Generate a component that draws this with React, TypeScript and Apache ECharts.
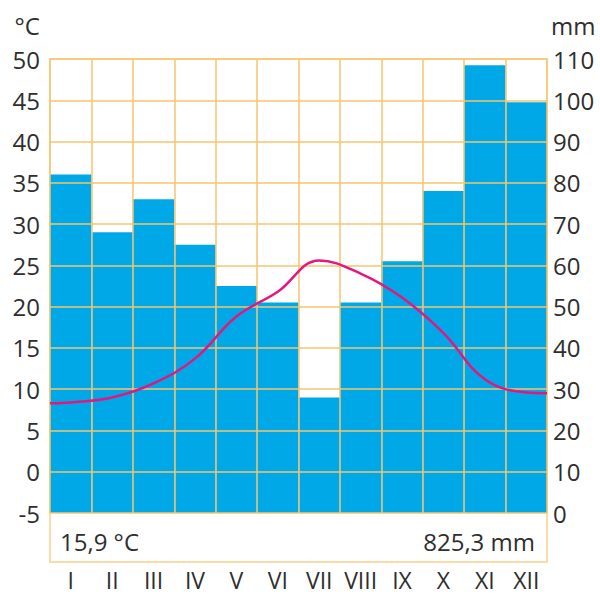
import React, { useEffect, useRef } from "react";
import * as echarts from "echarts";

const months = ["I", "II", "III", "IV", "V", "VI", "VII", "VIII", "IX", "X", "XI", "XII"];
const precipitation = [82, 68, 76, 65, 55, 51, 28, 51, 61, 78, 108.5, 99.5];
const temperature = [8.4, 9.0, 10.7, 13.7, 18.8, 21.8, 25.6, 24.0, 21.1, 16.8, 11.2, 9.6];
const tempStartEdge = 8.3;
const tempEndEdge = 9.5;
const tempTicks = { min: -5, max: 50, interval: 5 };
const precipTicks = { min: 0, max: 110, interval: 10 };
const meanTempLabel = "15,9 °C";
const totalPrecipLabel = "825,3 mm";

const FONT = "Open Sans";
const TEXT = "#2e2e2e";
const GRID_LINE = { color: "rgba(246,196,110,0.75)", width: 2 };

export default function App() {
  const ref = useRef<HTMLDivElement>(null);

  useEffect(() => {
    if (!ref.current) return;
    const chart = echarts.init(ref.current, null, { renderer: "svg" });

    const linePoints: [number, number][] = [
      [0, tempStartEdge],
      ...temperature.map((t, i) => [i + 0.5, t] as [number, number]),
      [months.length, tempEndEdge],
    ];

    const left = 50;
    const top = 59;
    const right = 547;
    const plotBottom = 513;
    const frameBottom = 562;

    chart.setOption({
      animation: false,
      backgroundColor: "#ffffff",
      textStyle: { fontFamily: FONT },
      grid: { left, top, right: 600 - right, bottom: 596 - plotBottom, containLabel: false },
      xAxis: [
        {
          type: "category",
          data: months,
          boundaryGap: true,
          axisLine: { show: false },
          axisTick: { show: false },
          axisLabel: { interval: 0, margin: 54, fontSize: 23, lineHeight: 26, color: TEXT, fontFamily: FONT },
          splitLine: { show: true, interval: 0, lineStyle: GRID_LINE },
          z: 5,
        },
        { type: "value", min: 0, max: months.length, show: false },
      ],
      yAxis: [
        {
          type: "value",
          position: "left",
          ...tempTicks,
          name: "°C",
          nameLocation: "end",
          nameGap: 22,
          nameTextStyle: { fontSize: 24, color: TEXT, fontFamily: FONT, align: "right", padding: [0, 10, 0, 0] },
          axisLine: { show: false },
          axisTick: { show: false },
          axisLabel: { fontSize: 24, color: TEXT, fontFamily: FONT, margin: 10 },
          splitLine: { show: true, lineStyle: GRID_LINE },
          z: 5,
        },
        {
          type: "value",
          position: "right",
          ...precipTicks,
          name: "mm",
          nameLocation: "end",
          nameGap: 22,
          nameTextStyle: { fontSize: 24, color: TEXT, fontFamily: FONT, align: "left", padding: [0, 0, 0, 4] },
          axisLine: { show: false },
          axisTick: { show: false },
          axisLabel: { fontSize: 24, color: TEXT, fontFamily: FONT, margin: 6 },
          splitLine: { show: false },
        },
      ],
      series: [
        {
          type: "bar",
          name: "mm",
          xAxisIndex: 0,
          yAxisIndex: 1,
          data: precipitation,
          barWidth: "100%",
          barCategoryGap: 0,
          itemStyle: { color: "#00a8e8" },
          z: 2,
        },
        {
          type: "line",
          name: "°C",
          xAxisIndex: 1,
          yAxisIndex: 0,
          data: linePoints,
          smooth: 0.4,
          symbol: "none",
          lineStyle: { color: "#e2187f", width: 2.5 },
          z: 10,
        },
      ],
      graphic: [
        {
          type: "rect",
          shape: { x: left, y: top, width: right - left, height: frameBottom - top },
          style: { fill: "none", stroke: "#fcdca6", lineWidth: 2 },
          z: 1,
          silent: true,
        },
        {
          type: "text",
          x: 60,
          y: 541,
          style: { text: meanTempLabel, fontSize: 24, fill: TEXT, fontFamily: FONT, verticalAlign: "middle", align: "left" },
          z: 20,
        },
        {
          type: "text",
          x: 535,
          y: 541,
          style: { text: totalPrecipLabel, fontSize: 24, fill: TEXT, fontFamily: FONT, verticalAlign: "middle", align: "right" },
          z: 20,
        },
      ],
    });

    return () => chart.dispose();
  }, []);

  return <div ref={ref} style={{ position: "fixed", left: 0, top: 0, width: 600, height: 596 }} />;
}
